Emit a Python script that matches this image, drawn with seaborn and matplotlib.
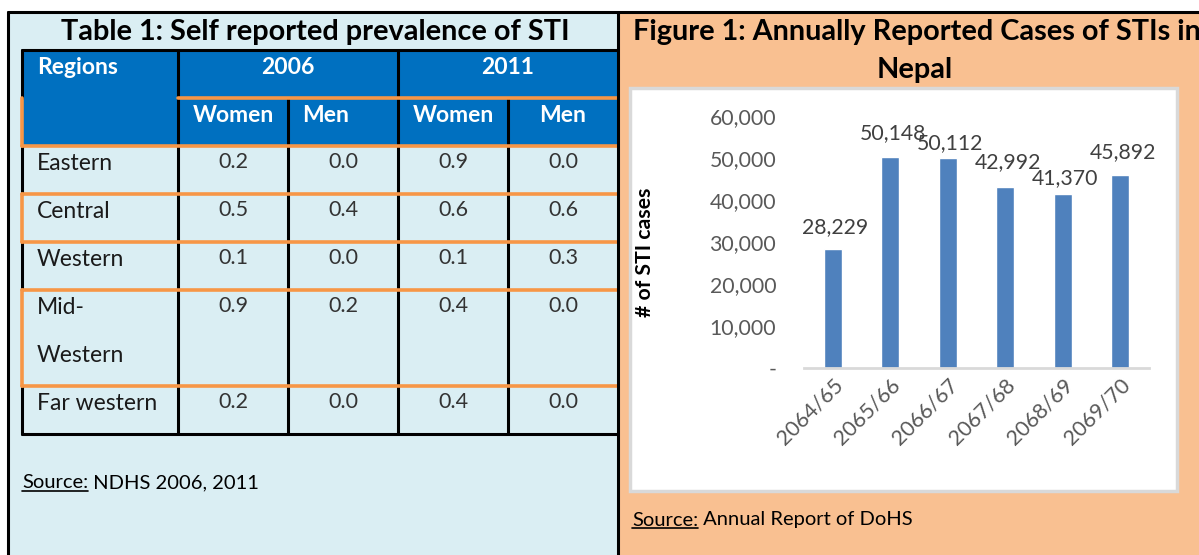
import matplotlib
matplotlib.use("Agg")
import matplotlib.pyplot as plt
import seaborn as sns
import pandas as pd
from matplotlib.patches import Rectangle

# ---------------- data ----------------
regions = ["Eastern", "Central", "Western", "Mid-\nWestern", "Far western"]
women_2006 = [0.2, 0.5, 0.1, 0.9, 0.2]
men_2006 = [0.0, 0.4, 0.0, 0.2, 0.0]
women_2011 = [0.9, 0.6, 0.1, 0.4, 0.4]
men_2011 = [0.0, 0.6, 0.3, 0.0, 0.0]
years = ["2006", "2011"]
sexes = ["Women", "Men", "Women", "Men"]

fiscal_years = ["2064/65", "2065/66", "2066/67", "2067/68", "2068/69", "2069/70"]
sti_cases = [28229, 50148, 50112, 42992, 41370, 45892]
ytick_values = [0, 10000, 20000, 30000, 40000, 50000, 60000]
ytick_labels = ["-", "10,000", "20,000", "30,000", "40,000", "50,000", "60,000"]

table_title = "Table 1: Self reported prevalence of STI"
fig_title_1 = "Figure 1: Annually Reported Cases of STIs in"
fig_title_2 = "Nepal"

# label lift above bar top, in pixels (layout only)
label_lift_px = [22, 24, 14, 25, 16.5, 23]

# ---------------- style ----------------
sns.set_theme(style="white")
plt.rcParams["font.family"] = ["Lato", "DejaVu Sans"]

W, H = 1199, 555
fig = plt.figure(figsize=(W / 100, H / 100), dpi=100)
fig.patch.set_facecolor("white")

bg = fig.add_axes([0, 0, 1, 1], zorder=0)
bg.set_xlim(0, W)
bg.set_ylim(H, 0)
bg.axis("off")

LIGHT_BLUE = "#DAEEF3"
HEAD_BLUE = "#0070C0"
ORANGE = "#F79646"
PEACH = "#F9C091"
BLACK = "#000000"
TXT = "#1A1A1A"
VAL = "#333333"

TITLE_FS = 20.8
NAME_FS = 16.5
VAL_FS = 15.5
HEAD_FS = 16.5
SRC_FS = 14.5
NUM_FS = 15.3

# panels
bg.add_patch(Rectangle((8, 12), 610, H - 12, facecolor=LIGHT_BLUE, edgecolor="none"))
bg.add_patch(Rectangle((618, 12), W - 618, H - 12, facecolor=PEACH, edgecolor="none"))
lw = 2.2
bg.plot([8, 8], [12, H], color=BLACK, lw=lw)
bg.plot([8, W], [12, 12], color=BLACK, lw=lw)

# ---------------- table ----------------
bg.text(315, 32, table_title, ha="center", va="center", fontsize=TITLE_FS,
        fontweight="bold", color=BLACK)

cx = [22, 178, 288, 398, 508, 618]
h0, h1, h2 = 50, 98, 146
row_h = [48, 48, 48, 96, 48]
row_top = [h2]
for rh in row_h:
    row_top.append(row_top[-1] + rh)

bg.add_patch(Rectangle((cx[0], h0), cx[-1] - cx[0], h2 - h0,
                       facecolor=HEAD_BLUE, edgecolor="none"))

bg.text(37, 68, "Regions", ha="left", va="center", fontsize=HEAD_FS,
        fontweight="bold", color="white")
for i, yr in enumerate(years):
    xc = (cx[1 + 2 * i] + cx[3 + 2 * i]) / 2
    bg.text(xc, 68, yr, ha="center", va="center", fontsize=HEAD_FS,
            fontweight="bold", color="white")
for j, s in enumerate(sexes):
    if j == 1:
        bg.text(cx[2] + 14, 115, s, ha="left", va="center", fontsize=HEAD_FS,
                fontweight="bold", color="white")
    else:
        bg.text((cx[1 + j] + cx[2 + j]) / 2, 115, s, ha="center", va="center",
                fontsize=HEAD_FS, fontweight="bold", color="white")

cols = [women_2006, men_2006, women_2011, men_2011]
for r, name in enumerate(regions):
    top = row_top[r]
    parts = name.split("\n")
    for k, p in enumerate(parts):
        bg.text(37, top + 18 + 47 * k, p, ha="left", va="center",
                fontsize=NAME_FS, color=TXT)
    for j, col in enumerate(cols):
        bg.text((cx[1 + j] + cx[2 + j]) / 2, top + 16, f"{col[r]:.1f}",
                ha="center", va="center", fontsize=VAL_FS, color=VAL)

tl = 2.2
# black header lines
bg.plot([cx[0], cx[-1]], [h0, h0], color=BLACK, lw=tl)
bg.plot([cx[0], cx[0]], [h0, h1], color=BLACK, lw=tl)
for x in (cx[1], cx[3]):
    bg.plot([x, x], [h0, h1], color=BLACK, lw=tl)
for x in cx[1:5]:
    bg.plot([x, x], [h1, row_top[-1]], color=BLACK, lw=tl)
# black left borders for plain rows + bottom
for r in (0, 2, 4):
    bg.plot([cx[0], cx[0]], [row_top[r], row_top[r + 1]], color=BLACK, lw=tl)
bg.plot([cx[0], cx[-1]], [row_top[-1], row_top[-1]], color=BLACK, lw=tl)
# orange lines
bg.plot([cx[1], cx[-1]], [h1, h1], color=ORANGE, lw=tl + 0.4)
bg.plot([cx[0], cx[0]], [h1, h2], color=ORANGE, lw=tl + 0.4)
for r in (1, 3):
    bg.plot([cx[0], cx[-1]], [row_top[r], row_top[r]], color=ORANGE, lw=tl + 0.4)
    bg.plot([cx[0], cx[-1]], [row_top[r + 1], row_top[r + 1]], color=ORANGE, lw=tl + 0.4)
    bg.plot([cx[0], cx[0]], [row_top[r], row_top[r + 1]], color=ORANGE, lw=tl + 0.4)
bg.plot([cx[0], cx[-1]], [h2, h2], color=ORANGE, lw=tl + 0.4)

# divider between panels
bg.plot([618, 618], [12, H], color=BLACK, lw=lw)

# ---------------- right panel ----------------
bg.text(633, 32, fig_title_1, ha="left", va="center", fontsize=TITLE_FS,
        fontweight="bold", color=BLACK, clip_on=False)
bg.text(915, 70, fig_title_2, ha="center", va="center", fontsize=TITLE_FS,
        fontweight="bold", color=BLACK)
bg.add_patch(Rectangle((630, 88), 547, 403, facecolor="white",
                       edgecolor="#D9D9D9", lw=2.5))

# sources (with underline)
src_items = [(22, 483, "Source:", " NDHS 2006, 2011"),
             (632, 520, "Source:", " Annual Report of DoHS")]
fig.canvas.draw()
renderer = fig.canvas.get_renderer()
inv = bg.transData.inverted()
for x0, y0, a, b in src_items:
    t = bg.text(x0, y0, a, ha="left", va="center", fontsize=SRC_FS, color=BLACK)
    bb = t.get_window_extent(renderer=renderer)
    (xa, ya), (xb, yb) = inv.transform([[bb.x0, bb.y0], [bb.x1, bb.y1]])
    bg.plot([xa, xb], [ya - 1, ya - 1], color=BLACK, lw=1.2)
    bg.text(xb, y0, b, ha="left", va="center", fontsize=SRC_FS, color=BLACK)

# ---------------- bar chart ----------------
ax_top, ax_bot = 116, 368
ax = fig.add_axes([804 / W, 1 - ax_bot / H, (1149 - 804) / W, (ax_bot - ax_top) / H], zorder=2)
ax.patch.set_alpha(0)
df = pd.DataFrame({"year": fiscal_years, "cases": sti_cases})
sns.barplot(data=df, x="year", y="cases", color="#4F81BD", saturation=1,
            width=0.31, ax=ax)
ax.set_ylim(0, 60000)
ax.set_xlim(-0.5, 5.5)
ax.set_yticks(ytick_values)
ax.set_yticklabels(ytick_labels, fontsize=NUM_FS, color="#595959")
ax.tick_params(axis="y", length=0, pad=20)
ax.tick_params(axis="x", length=0, pad=5)
ax.set_xticks(range(len(fiscal_years)))
ax.set_xticklabels(fiscal_years, rotation=45, ha="right", va="top",
                   rotation_mode="anchor", fontsize=15.5, color="#595959")
for s in ("top", "right", "left"):
    ax.spines[s].set_visible(False)
ax.spines["bottom"].set_color("#D9D9D9")
ax.spines["bottom"].set_linewidth(2)
ax.set_xlabel("")
ax.set_ylabel("# of STI cases", fontsize=15.3, fontweight="bold", color=BLACK,
              labelpad=0)
ax.yaxis.set_label_coords((655 - 804) / (1149 - 804), (368 - 252) / (368 - 116))
ax.grid(False)
units_per_px = 60000 / (ax_bot - ax_top)
for i, v in enumerate(sti_cases):
    ax.text(i + 0.04, v + label_lift_px[i] * units_per_px, f"{v:,}", ha="center",
            va="center", fontsize=NUM_FS, color="#404040", clip_on=False)

fig.savefig("out.png", dpi=100, facecolor="white")
